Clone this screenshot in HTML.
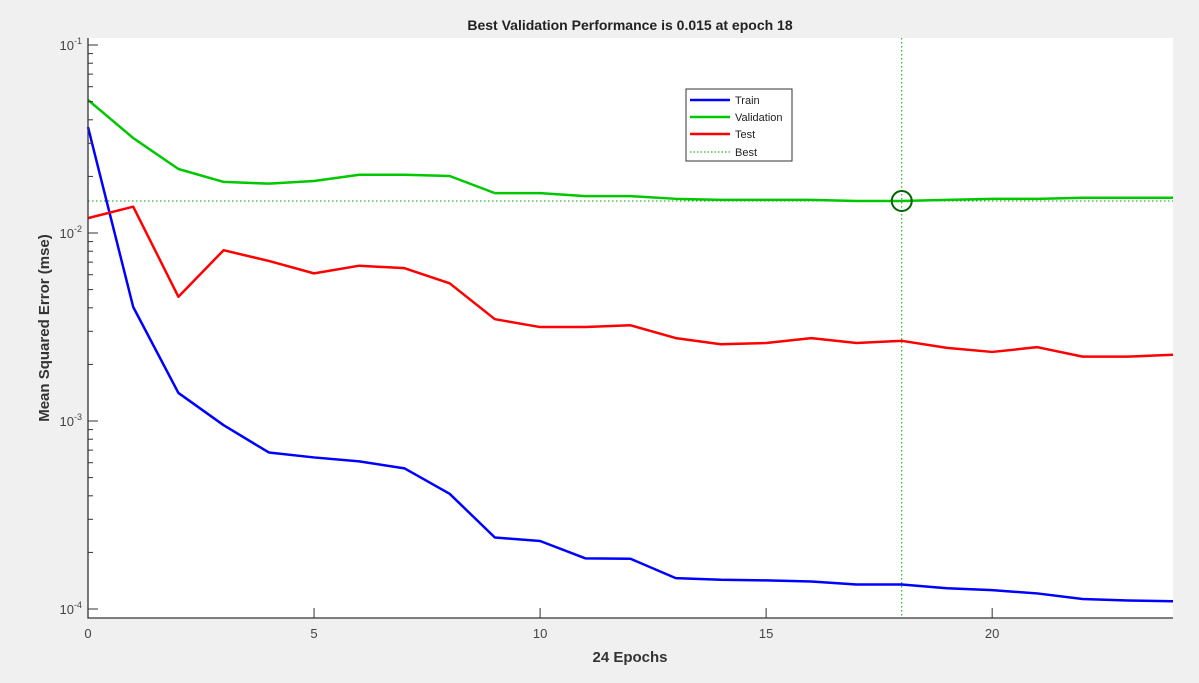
<!DOCTYPE html>
<html><head><meta charset="utf-8"><style>
body{margin:0;background:#f0f0f0;font-family:"Liberation Sans",Arial,sans-serif}
svg{display:block}
</style></head><body>
<svg id="chart" width="1199" height="683" xmlns="http://www.w3.org/2000/svg">
<rect x="0" y="0" width="1199" height="683" fill="#f0f0f0"/>
<rect x="88" y="38" width="1085" height="580" fill="#fff"/>
<g id="grid"></g>
<g id="series"></g>
<text x="630" y="30" text-anchor="middle" font-size="14" font-weight="bold" fill="#222">Best Validation Performance is 0.015 at epoch 18</text>
<text x="630" y="662" text-anchor="middle" font-size="15" font-weight="bold" fill="#333">24 Epochs</text>
<text transform="translate(49,328) rotate(-90)" text-anchor="middle" font-size="15" font-weight="bold" fill="#333">Mean Squared Error  (mse)</text>
<g id="axes"></g>
<g>
<rect x="686" y="89" width="106" height="72" fill="#fff" stroke="#333" stroke-width="1"/>
<line x1="690" y1="100" x2="730" y2="100" stroke="#0000ff" stroke-width="2.5"/><text x="735" y="104" font-size="11" fill="#222">Train</text>
<line x1="690" y1="117" x2="730" y2="117" stroke="#00c800" stroke-width="2.5"/><text x="735" y="121" font-size="11" fill="#222">Validation</text>
<line x1="690" y1="134" x2="730" y2="134" stroke="#ff0000" stroke-width="2.5"/><text x="735" y="138" font-size="11" fill="#222">Test</text>
<line x1="690" y1="152" x2="730" y2="152" stroke="#00a000" stroke-width="1" stroke-dasharray="1.5,2"/><text x="735" y="156" font-size="11" fill="#222">Best</text>
</g>
</svg>
<script>
const epochs=[0,1,2,3,4,5,6,7,8,9,10,11,12,13,14,15,16,17,18,19,20,21,22,23,24];
const trainVals=[0.0366,0.00404,0.00141,0.00095,0.00068,0.00064,0.00061,0.00056,0.00041,0.00024,0.00023,0.000186,0.000185,0.000146,0.000143,0.000142,0.00014,0.000135,0.000135,0.000129,0.000126,0.000121,0.000113,0.000111,0.00011];
const valVals=[0.051,0.032,0.0219,0.0187,0.0183,0.0189,0.0204,0.0204,0.0201,0.0163,0.0163,0.0157,0.0157,0.0152,0.015,0.015,0.015,0.0148,0.0148,0.015,0.0152,0.0152,0.0154,0.0154,0.0154];
const testVals=[0.012,0.0138,0.00458,0.0081,0.0071,0.0061,0.0067,0.0065,0.0054,0.00348,0.00316,0.00316,0.00323,0.00276,0.00256,0.0026,0.00276,0.0026,0.00267,0.00245,0.00233,0.00247,0.0022,0.0022,0.00225];
const bestEpoch=18;
const bestVal=0.0148;
const xTicks=[0,5,10,15,20];
const yDecades=[-4,-3,-2,-1];
const NS="http://www.w3.org/2000/svg";
const X0=88,X1=1173,Y0=38,Y1=618;
const xs=e=>X0+(e/24)*(X1-X0);
const ys=v=>45-(Math.log10(v)+1)*188;
function mk(tag,attrs,parent){const el=document.createElementNS(NS,tag);for(const k in attrs)el.setAttribute(k,attrs[k]);parent.appendChild(el);return el;}
const axes=document.getElementById('axes'),series=document.getElementById('series'),grid=document.getElementById('grid');
const ax=mk('path',{d:`M${X0},${Y0}V${Y1}H${X1}`,fill:'none',stroke:'#333','stroke-width':1.3},axes);


xTicks.forEach(t=>{const x=xs(t);
 const tk=mk('line',{x1:x,y1:Y1,x2:x,y2:Y1-10,stroke:'#333'},axes);
 
 
 const lb=mk('text',{x:x,y:Y1+20,'text-anchor':'middle','font-size':13,fill:'#444'},axes);
 lb.textContent=t;
 
 
});
yDecades.forEach(d=>{const y=ys(Math.pow(10,d));
 const tk=mk('line',{x1:X0,y1:y,x2:X0+10,y2:y,stroke:'#333'},axes);
 
 
 const lb=mk('text',{x:X0-6,y:y+5,'text-anchor':'end','font-size':13,fill:'#444'},axes);
 lb.innerHTML='10<tspan dy="-6" font-size="9">'+d+'</tspan>';
 
 
 for(let m=2;m<=9;m++){const yy=ys(m*Math.pow(10,d)); if(yy<Y0)continue;
  const mt=mk('line',{x1:X0,y1:yy,x2:X0+5,y2:yy,stroke:'#333'},axes);
  
  }
});
const hb=mk('line',{x1:X0,y1:ys(bestVal),x2:X1,y2:ys(bestVal),stroke:'#00a000','stroke-dasharray':'1.5,2.5'},grid);


const vb=mk('line',{x1:xs(bestEpoch),y1:Y0,x2:xs(bestEpoch),y2:Y1,stroke:'#00a000','stroke-dasharray':'1.5,2.5'},grid);


[[trainVals,'#0000ff','train-line'],[valVals,'#00c800','validation-line'],[testVals,'#ff0000','test-line']].forEach(([vals,c,n])=>{
 const p=mk('polyline',{points:vals.map((v,i)=>xs(epochs[i])+','+ys(v)).join(' '),fill:'none',stroke:c,'stroke-width':2.5,'stroke-linejoin':'round'},series);
 
 
});
const bc=mk('circle',{cx:xs(bestEpoch),cy:ys(bestVal),r:10,fill:'none',stroke:'#006400','stroke-width':2},series);


</script>
</body></html>
